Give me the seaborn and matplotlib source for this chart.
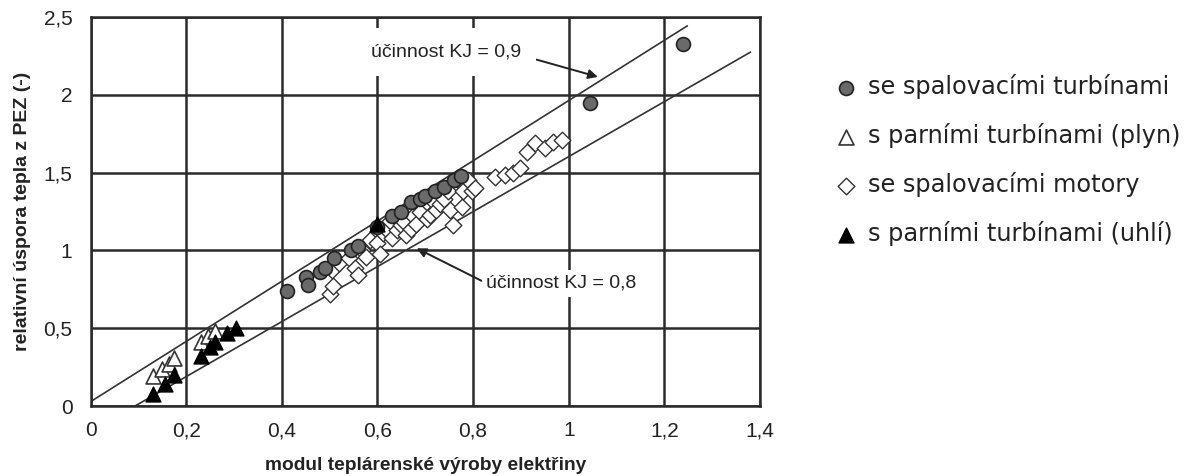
import numpy as np
import pandas as pd
import matplotlib
matplotlib.use("Agg")
import matplotlib.pyplot as plt
import seaborn as sns

# ---------------- data ----------------
circ_x = [0.41, 0.45, 0.455, 0.48, 0.49, 0.51, 0.545, 0.56, 0.60, 0.63, 0.65, 0.67, 0.69, 0.70,
          0.72, 0.74, 0.76, 0.775, 1.045, 1.24]
circ_y = [0.74, 0.83, 0.78, 0.86, 0.89, 0.95, 1.00, 1.03, 1.15, 1.22, 1.25, 1.31, 1.33, 1.35,
          1.38, 1.41, 1.45, 1.48, 1.95, 2.33]

tri_open_x = [0.13, 0.15, 0.165, 0.175, 0.23, 0.245, 0.26]
tri_open_y = [0.19, 0.24, 0.27, 0.31, 0.41, 0.45, 0.48]

diam_x = [0.50, 0.507, 0.504, 0.52, 0.54, 0.553, 0.56, 0.567, 0.577, 0.584, 0.60, 0.605, 0.612,
          0.62, 0.626, 0.63, 0.64, 0.65, 0.654, 0.66, 0.671, 0.675, 0.68, 0.69, 0.703, 0.71,
          0.716, 0.723, 0.73, 0.74, 0.748, 0.751, 0.758, 0.772, 0.776, 0.779, 0.79, 0.797,
          0.804, 0.845, 0.866, 0.884, 0.898, 0.912, 0.929, 0.95, 0.967, 0.985]
diam_y = [0.72, 0.77, 0.875, 0.92, 0.95, 0.89, 0.84, 1.00, 0.96, 1.07, 1.05, 0.98, 1.11,
          1.13, 1.19, 1.08, 1.13, 1.165, 1.19, 1.10, 1.14, 1.22, 1.17, 1.25, 1.20, 1.23,
          1.32, 1.26, 1.30, 1.33, 1.38, 1.26, 1.165, 1.44, 1.28, 1.38, 1.45, 1.38,
          1.40, 1.475, 1.485, 1.496, 1.528, 1.635, 1.689, 1.657, 1.70, 1.71]

tri_fill_x = [0.13, 0.155, 0.175, 0.23, 0.25, 0.26, 0.285, 0.305, 0.60]
tri_fill_y = [0.08, 0.14, 0.20, 0.32, 0.38, 0.41, 0.47, 0.50, 1.17]

# efficiency reference lines (end points)
kj09_x = [0.0, 1.248]
kj09_y = [0.028, 2.444]
kj08_x = [0.093, 1.380]
kj08_y = [0.0, 2.275]

labels = ["se spalovacími turbínami", "s parními turbínami (plyn)",
          "se spalovacími motory", "s parními turbínami (uhlí)"]
x_ticks = [0, 0.2, 0.4, 0.6, 0.8, 1.0, 1.2, 1.4]
x_ticklabels = ["0", "0,2", "0,4", "0,6", "0,8", "1", "1,2", "1,4"]
y_ticks = [0, 0.5, 1.0, 1.5, 2.0, 2.5]
y_ticklabels = ["0", "0,5", "1", "1,5", "2", "2,5"]
x_label = "modul teplárenské výroby elektřiny"
y_label = "relativní úspora tepla z PEZ (-)"
ann09 = "účinnost KJ = 0,9"
ann08 = "účinnost KJ = 0,8"

# ---------------- style ----------------
sns.set_theme(style="white")
plt.rcParams['font.family'] = ['Liberation Sans', 'DejaVu Sans']

fig = plt.figure(figsize=(12.01, 4.76), dpi=100)
ax = fig.add_axes([0.0754, 0.147, 0.5574, 0.817])

gc = "#2a2a2a"
ax.set_axisbelow(True)
ax.grid(True, color=gc, lw=1.8)

# lines
sns.lineplot(x=kj09_x, y=kj09_y, ax=ax, color="#333333", lw=1.2, zorder=2)
sns.lineplot(x=kj08_x, y=kj08_y, ax=ax, color="#333333", lw=1.2, zorder=2)

sns.scatterplot(x=diam_x, y=diam_y, ax=ax, marker="D", s=72, facecolor="white",
                edgecolor="#333333", linewidth=1.0, label=labels[2], zorder=3)
sns.scatterplot(x=circ_x, y=circ_y, ax=ax, marker="o", s=100, color="#6a6a6a",
                edgecolor="#222222", linewidth=1.2, label=labels[0], zorder=4)
sns.scatterplot(x=tri_open_x, y=tri_open_y, ax=ax, marker="^", s=115, facecolor="white",
                edgecolor="#333333", linewidth=1.2, label=labels[1], zorder=4)
sns.scatterplot(x=tri_fill_x, y=tri_fill_y, ax=ax, marker="^", s=115, color="black",
                edgecolor="black", linewidth=1.0, label=labels[3], zorder=5)

ax.set_xlim(0, 1.4)
ax.set_ylim(0, 2.5)
ax.set_xticks(x_ticks)
ax.set_xticklabels(x_ticklabels)
ax.set_yticks(y_ticks)
ax.set_yticklabels(y_ticklabels)
ax.tick_params(axis="both", direction="out", length=5, width=1.5, color=gc,
               labelsize=15, labelcolor="#222222", pad=6)
ax.tick_params(axis="y", pad=8)
for s in ax.spines.values():
    s.set_color(gc)
    s.set_linewidth(1.8)

ax.set_xlabel(x_label, fontsize=13.8, fontweight="bold", color="#222222", labelpad=12)
ax.set_ylabel(y_label, fontsize=14, fontweight="bold", color="#222222", labelpad=9)

# annotations
ax.annotate(ann09, xy=(1.061, 2.116), xytext=(0.743, 2.277), fontsize=14,
            ha="center", va="center", color="#222222",
            bbox=dict(boxstyle="square,pad=0.8", fc="white", ec="none"),
            arrowprops=dict(arrowstyle="-|>", color="#222222", lw=1.4,
                            mutation_scale=14, shrinkA=0, shrinkB=0,
                            relpos=(1.0, 0.3)),
            zorder=6)
ax.annotate(ann08, xy=(0.682, 1.014), xytext=(0.828, 0.789), fontsize=14,
            ha="left", va="center", color="#222222",
            bbox=dict(boxstyle="square,pad=0.25", fc="white", ec="none"),
            arrowprops=dict(arrowstyle="-|>", color="#222222", lw=1.4,
                            mutation_scale=14, shrinkA=0, shrinkB=0,
                            relpos=(0.0, 0.5)),
            zorder=6)

# legend
handles, lbls = ax.get_legend_handles_labels()
order = [lbls.index(l) for l in labels]
ax.legend().remove()
leg = fig.legend([handles[i] for i in order], [lbls[i] for i in order],
                 loc="upper left", bbox_to_anchor=(0.6745, 0.89), frameon=False,
                 prop={"family": "DejaVu Sans", "size": 17.3}, handletextpad=0.3,
                 labelspacing=1.0, handlelength=1.2, markerscale=1.0)
for t in leg.get_texts():
    t.set_color("#222222")

fig.savefig("out.png", dpi=100)
